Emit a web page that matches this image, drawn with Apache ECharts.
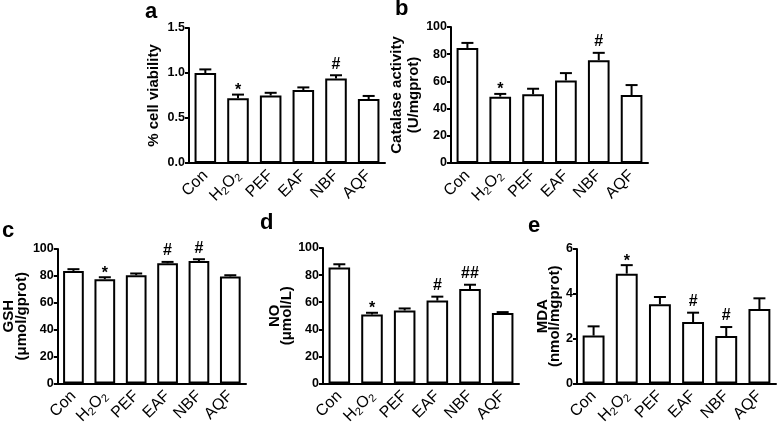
<!DOCTYPE html>
<html>
<head>
<meta charset="utf-8">
<script src="https://cdn.jsdelivr.net/npm/echarts@6/dist/echarts.min.js"></script>
<style>html,body{margin:0;padding:0;background:#fff;}#c{width:778px;height:428px;}</style>
</head>
<body>
<div id="c"></div>
<script>
const categories = ['Con', 'H2O2', 'PEF', 'EAF', 'NBF', 'AQF'];

// a: cell viability
const viabilityMean = [1.00, 0.72, 0.75, 0.81, 0.94, 0.71];
const viabilityErr  = [0.04, 0.04, 0.03, 0.03, 0.035, 0.035];
const viabilityMark = ['', '*', '', '', '#', ''];
const viabilityTicks = [0, 0.5, 1.0, 1.5];

// b: catalase activity
const catalaseMean = [84.6, 48.8, 50.5, 60.7, 75.6, 50.0];
const catalaseErr  = [3.7, 2.0, 4.1, 5.4, 5.4, 7.3];
const catalaseMark = ['', '*', '', '', '#', ''];
const catalaseTicks = [0, 20, 40, 60, 80, 100];

// c: GSH
const gshMean = [83.7, 77.6, 80.5, 89.4, 91.1, 79.6];
const gshErr  = [1.3, 1.4, 1.3, 1.0, 1.3, 0.9];
const gshMark = ['', '*', '', '#', '#', ''];
const gshTicks = [0, 20, 40, 60, 80, 100];

// d: NO
const noMean = [85.6, 51.0, 53.9, 61.2, 69.8, 52.0];
const noErr  = [2.4, 1.2, 1.5, 2.9, 3.1, 0.7];
const noMark = ['', '*', '', '#', '##', ''];
const noTicks = [0, 20, 40, 60, 80, 100];

// e: MDA
const mdaMean = [2.14, 4.90, 3.54, 2.74, 2.12, 3.32];
const mdaErr  = [0.41, 0.38, 0.32, 0.42, 0.40, 0.48];
const mdaMark = ['', '*', '', '#', '#', ''];
const mdaTicks = [0, 2, 4, 6];

const FONT = '"Liberation Sans", Arial, sans-serif';

const panels = [
  {letter: 'a', lx: 145, ly: 26, grid: {left: 189, top: 28, width: 196, height: 135},
   name: '% cell viability', nameGap: 27, lh: 17, mean: viabilityMean, err: viabilityErr, mark: viabilityMark, ticks: viabilityTicks, dec: 1},
  {letter: 'b', lx: 395, ly: 23, grid: {left: 451, top: 27, width: 197, height: 136},
   name: 'Catalase activity\n(U/mgprot)', nameGap: 23, lh: 17, mean: catalaseMean, err: catalaseErr, mark: catalaseMark, ticks: catalaseTicks, dec: 0},
  {letter: 'c', lx: 2, ly: 245, grid: {left: 53, top: 249, width: 193, height: 135},
   name: 'GSH\n(μmol/gprot)', nameGap: 28, lh: 13, mean: gshMean, err: gshErr, mark: gshMark, ticks: gshTicks, dec: 0},
  {letter: 'd', lx: 260, ly: 237, grid: {left: 323, top: 248, width: 196, height: 136},
   name: 'NO\n(μmol/L)', nameGap: 12, lh: 12, mean: noMean, err: noErr, mark: noMark, ticks: noTicks, dec: 0},
  {letter: 'e', lx: 528, ly: 240, grid: {left: 577, top: 249, width: 199, height: 135},
   name: 'MDA\n(nmol/mgprot)', nameGap: 16, lh: 12, mean: mdaMean, err: mdaErr, mark: mdaMark, ticks: mdaTicks, dec: 0}
];

const option = {
  backgroundColor: '#fff',
  animation: false,
  grid: [], xAxis: [], yAxis: [], series: [], graphic: []
};

panels.forEach((p, i) => {
  option.grid.push(Object.assign({containLabel: false}, p.grid));
  option.xAxis.push({
    type: 'category', gridIndex: i, data: categories,
    axisLine: {lineStyle: {color: '#000', width: 2}},
    axisTick: {alignWithLabel: true, length: 4, lineStyle: {color: '#000', width: 2}},
    axisLabel: {
      rotate: 45, margin: 10, color: '#000', fontFamily: FONT, fontSize: 16,
      formatter: v => v === 'H2O2' ? '{n|H}{s|2}{n|O}{s|2}' : v,
      rich: {
        n: {fontFamily: FONT, fontSize: 16, color: '#000'},
        s: {fontFamily: FONT, fontSize: 11, color: '#000', padding: [8, 0, 0, 0]}
      }
    }
  });
  const step = p.ticks[1] - p.ticks[0];
  option.yAxis.push({
    type: 'value', gridIndex: i, min: p.ticks[0], max: p.ticks[p.ticks.length - 1], interval: step,
    name: p.name, nameLocation: 'middle', nameGap: p.nameGap,
    nameTextStyle: {fontFamily: FONT, fontWeight: 'bold', fontSize: 15, color: '#000', lineHeight: p.lh},
    splitLine: {show: false},
    axisLine: {show: true, lineStyle: {color: '#000', width: 2}},
    axisTick: {show: true, length: 4, lineStyle: {color: '#000', width: 2}},
    axisLabel: {margin: 4, color: '#000', fontFamily: FONT, fontWeight: 'bold', fontSize: 12.5,
      formatter: v => v.toFixed(p.dec)}
  });
  option.series.push({
    type: 'bar', xAxisIndex: i, yAxisIndex: i, data: p.mean, barWidth: '66%',
    itemStyle: {color: '#fff', borderColor: '#000', borderWidth: 2},
    z: 2
  });
  const marks = p.mark;
  option.series.push({
    type: 'custom', xAxisIndex: i, yAxisIndex: i, z: 3,
    data: p.mean.map((m, k) => [k, m, p.err[k]]),
    renderItem: (params, api) => {
      const x = api.value(0), v = api.value(1), e = api.value(2);
      const p0 = api.coord([x, v]);
      const p1 = api.coord([x, v + e]);
      const hw = 6;
      const children = [
        {type: 'line', shape: {x1: p0[0], y1: p0[1], x2: p1[0], y2: p1[1]}, style: {stroke: '#000', lineWidth: 2}},
        {type: 'line', shape: {x1: p1[0] - hw, y1: p1[1], x2: p1[0] + hw, y2: p1[1]}, style: {stroke: '#000', lineWidth: 2}}
      ];
      const mk = marks[params.dataIndex];
      if (mk) {
        children.push({type: 'text', style: {
          text: mk, x: p1[0], y: p1[1] + (mk === '*' ? 4 : -3), align: 'center', verticalAlign: 'bottom',
          font: 'bold 16px ' + FONT, fill: '#000'
        }});
      }
      return {type: 'group', children};
    }
  });
  option.graphic.push({
    type: 'text', left: p.lx, top: p.ly - 25,
    style: {text: p.letter, font: 'bold 22px ' + FONT, fill: '#000'}
  });
});

const chart = echarts.init(document.getElementById('c'), null, {renderer: 'canvas'});
chart.setOption(option);
</script>
</body>
</html>
